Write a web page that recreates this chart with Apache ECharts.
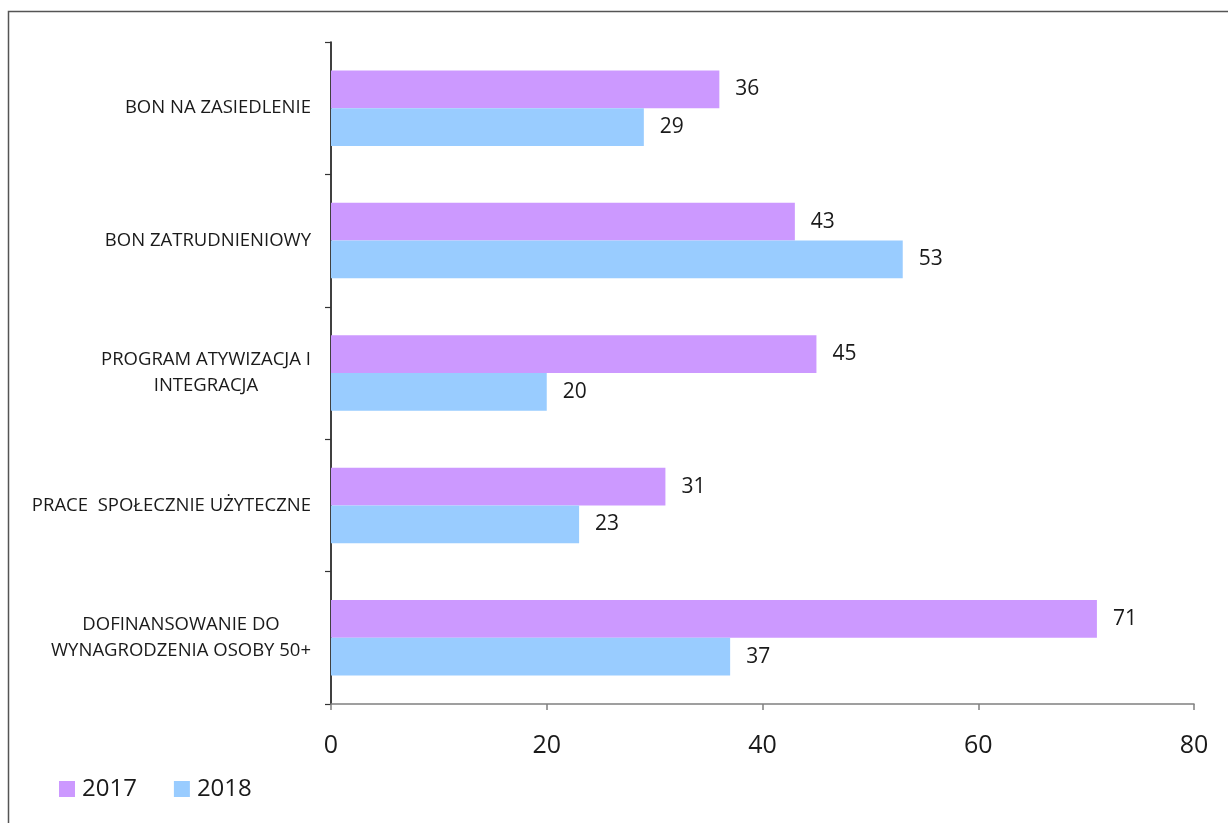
<!DOCTYPE html>
<html>
<head>
<meta charset="utf-8">
<script src="https://cdn.jsdelivr.net/npm/echarts@6/dist/echarts.min.js"></script>
<style>
html,body{margin:0;padding:0;background:#fff;}
#chart{width:1228px;height:823px;}
</style>
</head>
<body>
<div id="chart"></div>
<script>
const categories = [
  'BON NA ZASIEDLENIE',
  'BON ZATRUDNIENIOWY',
  'PROGRAM ATYWIZACJA I\nINTEGRACJA',
  'PRACE  SPOŁECZNIE UŻYTECZNE',
  'DOFINANSOWANIE DO\nWYNAGRODZENIA OSOBY 50+'
];
const seriesNames = ['2017', '2018'];
const values2017 = [36, 43, 45, 31, 71];
const values2018 = [29, 53, 20, 23, 37];
const xTicks = [0, 20, 40, 60, 80];

const FONT = '"Open Sans", "Noto Sans", sans-serif';
const chart = echarts.init(document.getElementById('chart'), null, {renderer: 'canvas'});

const labelStyle = {
  show: true,
  position: 'right',
  distance: 16,
  fontFamily: FONT,
  fontSize: 21,
  color: '#1a1a1a'
};

chart.setOption({
  animation: false,
  backgroundColor: '#fff',
  textStyle: {fontFamily: FONT},
  graphic: [{
    type: 'rect',
    shape: {x: 8.5, y: 11.5, width: 1400, height: 1000},
    style: {fill: 'none', stroke: '#555', lineWidth: 1.5},
    silent: true,
    z: 100
  }],
  grid: {left: 331, right: 34, top: 42, bottom: 119, containLabel: false},
  legend: {
    left: 54, top: 772,
    itemWidth: 16, itemHeight: 16, itemGap: 37,
    icon: 'rect',
    textStyle: {fontFamily: FONT, fontSize: 24, color: '#1a1a1a', padding: [0, 0, 0, 2]},
    data: seriesNames
  },
  xAxis: {
    type: 'value',
    min: xTicks[0], max: xTicks[xTicks.length - 1], interval: 20,
    axisLine: {show: true, lineStyle: {color: '#808080', width: 1.5}},
    axisTick: {show: true, length: 6, lineStyle: {color: '#808080', width: 1.5}},
    splitLine: {show: false},
    axisLabel: {fontFamily: FONT, fontSize: 25, color: '#1a1a1a', margin: 29}
  },
  yAxis: {
    type: 'category',
    inverse: true,
    data: categories,
    axisLine: {show: true, lineStyle: {color: '#000', width: 1.5}},
    axisTick: {show: true, length: 6, lineStyle: {color: '#333', width: 1.2}},
    axisLabel: {
      fontFamily: FONT, fontSize: 18.5, color: '#1a1a1a', margin: 20,
      align: 'right', lineHeight: 26,
      formatter: function (v) {
        return v.split('\n').map(function (l) { return '{c|' + l + '}'; }).join('\n');
      },
      rich: {c: {align: 'center', fontFamily: FONT, fontSize: 18.5, color: '#1a1a1a', lineHeight: 26}}
    }
  },
  series: [
    {
      name: seriesNames[0], type: 'bar', data: values2017,
      itemStyle: {color: '#CC99FF'},
      barGap: '0%', barCategoryGap: '43%',
      label: labelStyle
    },
    {
      name: seriesNames[1], type: 'bar', data: values2018,
      itemStyle: {color: '#99CCFF'},
      barGap: '0%', barCategoryGap: '43%',
      label: labelStyle
    }
  ]
});
</script>
</body>
</html>
